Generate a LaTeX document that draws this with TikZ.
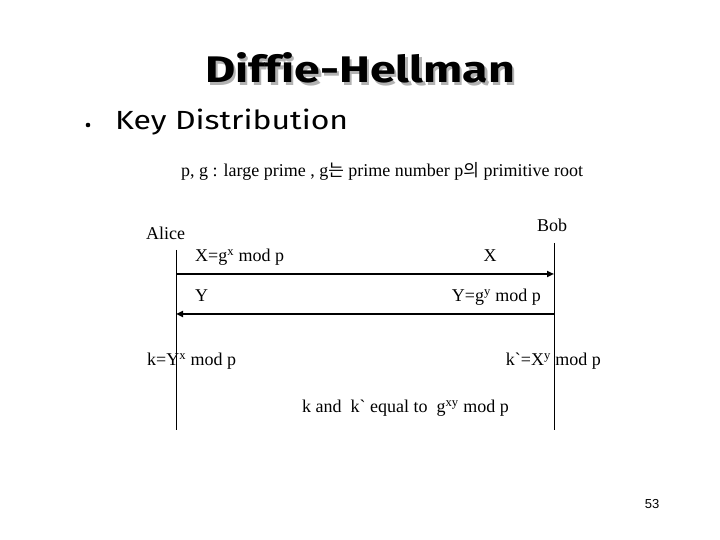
\documentclass[tikz,border=0pt]{standalone}
\usepackage{fontspec}
\usepackage{graphicx}
\setmainfont{Liberation Serif}
\newfontfamily\titlefont[Ligatures=NoCommon]{Fira Sans}
\newfontfamily\krfont{Noto Sans CJK KR}
\newfontfamily\numfont{Liberation Sans}
\usetikzlibrary{arrows.meta}
\begin{document}
\begin{tikzpicture}[x=1pt,y=1pt,
  lbl/.style={inner sep=0pt,anchor=base west,font=\fontsize{18}{20}\selectfont},
  life/.style={line width=1pt},
  msg/.style={line width=2pt,-{Triangle[length=7pt,width=6pt]}},
  titletxt/.style={inner sep=0pt,anchor=base,font=\titlefont\bfseries\fontsize{40}{44}\selectfont}]
\useasboundingbox (0,0) rectangle (720,540);
% title with shadow
\node[titletxt,text=black!30] (titleshadow) at (362.5,454.5) {\resizebox{310pt}{30pt}{Diffie-Hellman}};
\node[titletxt] (title) at (360,457) {\resizebox{310pt}{30pt}{Diffie-Hellman}};
% bullet
\fill (88,415) circle (2.3) coordinate (bulletdot);
\node[inner sep=0pt,anchor=base west,font=\titlefont\fontsize{26}{30}\selectfont] (key) at (115,410) {\resizebox{233pt}{20.5pt}{Key Distribution}};
% parameters line
\node[lbl] (params) at (181,363)
  {p, g : large prime , g{\krfont\fontsize{17}{20}\selectfont 는} prime number p{\krfont\fontsize{17}{20}\selectfont 의} primitive root};
% actors
\node[lbl,anchor=base] (alice) at (165.5,300) {Alice};
\node[lbl,anchor=base] (bob) at (552,308) {Bob};
% lifelines
\coordinate (aT) at (176,290);
\coordinate (aB) at (176,110);
\coordinate (bT) at (554,297);
\coordinate (bB) at (554,110);
\draw[life] (aT) -- (aB);
\draw[life] (bT) -- (bB);
% messages
\coordinate (a1) at (176,266);
\coordinate (b1) at (554,266);
\coordinate (a2) at (176,226);
\coordinate (b2) at (554,226);
\draw[msg] (a1) -- (b1);
\draw[msg] (b2) -- (a2);
\node[lbl] (xdef) at (195,278) {X=g\textsuperscript{x} mod p};
\node[lbl,anchor=base] (xrecv) at (490,278) {X};
\node[lbl] (yrecv) at (195,238) {Y};
\node[lbl,anchor=base east] (ydef) at (541,238) {Y=g\textsuperscript{y} mod p};
\node[lbl] (kalice) at (147,174) {k=Y\textsuperscript{x} mod p};
\node[lbl,anchor=base east] (kbob) at (601,174) {k\textasciigrave=X\textsuperscript{y} mod p};
\node[lbl,anchor=base] (equal) at (405.5,127) {k and\ \ k\textasciigrave\ equal to\ \ g\textsuperscript{xy} mod p};
\node[inner sep=0pt,anchor=base,font=\numfont\fontsize{13}{15}\selectfont] (pagenum) at (652,31) {53};
\end{tikzpicture}
\end{document}
